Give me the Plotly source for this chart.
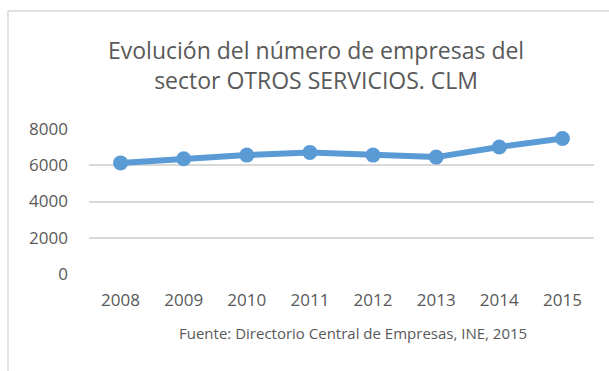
import plotly.graph_objects as go

# Número de empresas del sector "Otros servicios" en Castilla-La Mancha
years = ["2008", "2009", "2010", "2011", "2012", "2013", "2014", "2015"]
empresas = [6130, 6360, 6560, 6710, 6560, 6450, 7010, 7480]
y_ticks = [0, 2000, 4000, 6000, 8000]

title_text = "Evolución del número de empresas del<br>sector OTROS SERVICIOS. CLM"
source_text = "Fuente: Directorio Central de Empresas, INE, 2015"

FONT = "Open Sans"
TEXT = "#595959"
BLUE = "#5B9BD5"
GRID = "#D9D9D9"

fig = go.Figure()
fig.add_trace(go.Scatter(
    x=years, y=empresas, mode="lines+markers",
    line=dict(color=BLUE, width=6),
    marker=dict(color=BLUE, size=15),
    hoverinfo="x+y",
))

fig.update_layout(
    width=609, height=371,
    margin=dict(l=89, r=15, t=129, b=97),
    paper_bgcolor="white", plot_bgcolor="white",
    showlegend=False,
    font=dict(family=FONT, color=TEXT),
    xaxis=dict(
        type="category", showgrid=False, showline=False, zeroline=False,
        ticks="", ticklabelstandoff=14,
        tickfont=dict(size=17, color=TEXT, family=FONT),
        range=[-0.5, len(years) - 0.5],
    ),
    yaxis=dict(
        range=[0, 8000], tickvals=y_ticks, showgrid=True, gridcolor=GRID,
        gridwidth=1.5, zeroline=False, showline=False, ticks="",
        ticklabelstandoff=20,
        tickfont=dict(size=17, color=TEXT, family=FONT),
    ),
    annotations=[
        dict(text=title_text, xref="paper", yref="paper", x=0.45, y=1.0,
             yshift=64, xanchor="center", yanchor="middle", showarrow=False,
             font=dict(size=23, color=TEXT, family=FONT)),
        dict(text=source_text, xref="paper", yref="paper", x=0.522, y=0,
             yshift=-59, xanchor="center", yanchor="middle", showarrow=False,
             font=dict(size=15, color=TEXT, family=FONT)),
    ],
    shapes=[
        # outer frame of the chart area (top and left edges)
        dict(type="line", xref="paper", yref="paper",
             x0=-81 / 505, x1=1.1, y0=1 + 118 / 145, y1=1 + 118 / 145,
             line=dict(color=GRID, width=1.5), layer="below"),
        dict(type="line", xref="paper", yref="paper",
             x0=-81 / 505, x1=-81 / 505, y0=-0.7, y1=1 + 118 / 145,
             line=dict(color=GRID, width=1.5), layer="below"),
    ],
)

fig.write_html("out.html")
